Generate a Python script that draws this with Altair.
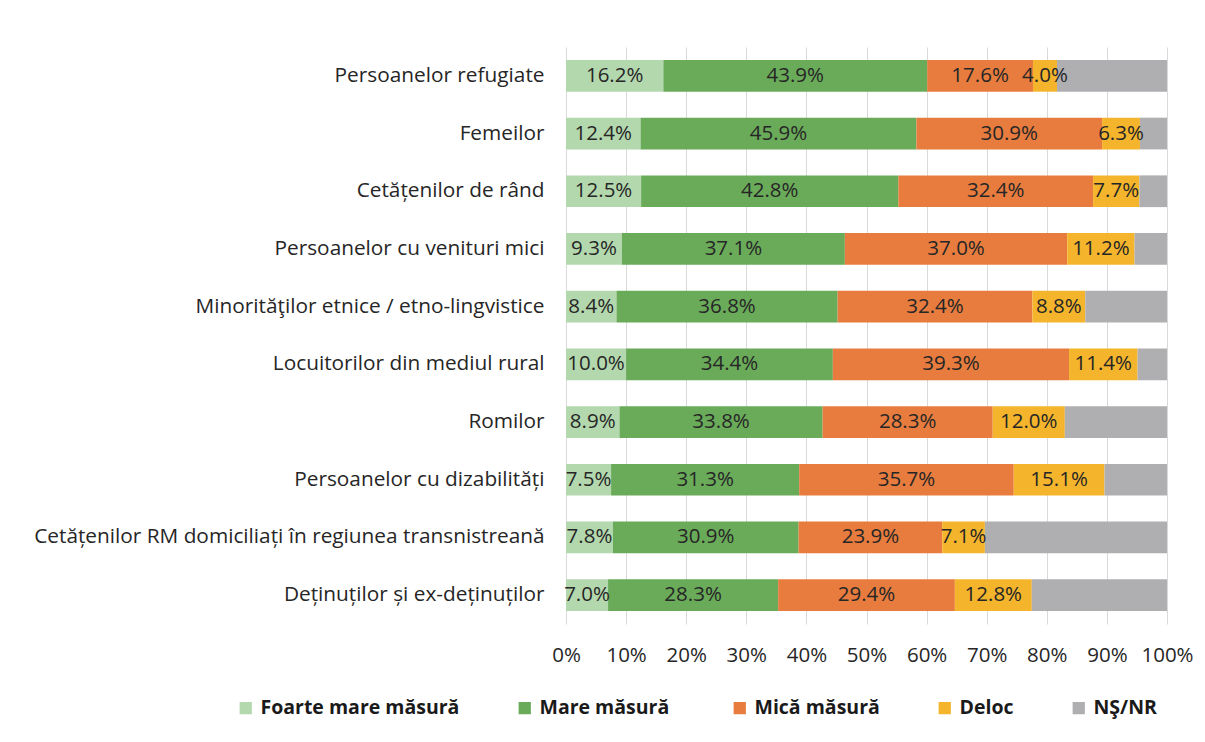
import altair as alt
import pandas as pd

categories = [
    "Persoanelor refugiate",
    "Femeilor",
    "Cetățenilor de rând",
    "Persoanelor cu venituri mici",
    "Minorităţilor etnice / etno-lingvistice",
    "Locuitorilor din mediul rural",
    "Romilor",
    "Persoanelor cu dizabilități",
    "Cetățenilor RM domiciliați în regiunea transnistreană",
    "Deținuților și ex-deținuților",
]
foarte_mare = [16.2, 12.4, 12.5, 9.3, 8.4, 10.0, 8.9, 7.5, 7.8, 7.0]
mare = [43.9, 45.9, 42.8, 37.1, 36.8, 34.4, 33.8, 31.3, 30.9, 28.3]
mica = [17.6, 30.9, 32.4, 37.0, 32.4, 39.3, 28.3, 35.7, 23.9, 29.4]
deloc = [4.0, 6.3, 7.7, 11.2, 8.8, 11.4, 12.0, 15.1, 7.1, 12.8]
ns_nr = [18.3, 4.5, 4.6, 5.4, 13.6, 4.9, 17.0, 10.4, 30.3, 22.5]

series = ["Foarte mare măsură", "Mare  măsură", "Mică măsură", "Deloc", "NŞ/NR"]
colors = ["#b4d8ae", "#6aab5a", "#e77c3e", "#f4b52d", "#afafb2"]
x_ticks = [0, 10, 20, 30, 40, 50, 60, 70, 80, 90, 100]

values_by_series = [foarte_mare, mare, mica, deloc, ns_nr]
rows = []
for si, (s, vals) in enumerate(zip(series, values_by_series)):
    for ci, c in enumerate(categories):
        rows.append({"cat": c, "series": s, "s_order": si, "value": vals[ci]})
df = pd.DataFrame(rows)

FONT = "Open Sans"

base = (
    alt.Chart(df)
    .transform_stack(
        stack="value", as_=["x0", "x1"], groupby=["cat"],
        sort=[alt.SortField("s_order", order="ascending")],
    )
    .transform_calculate(
        mid="(datum.x0 + datum.x1) / 2",
        label="format(datum.value, '.1f') + '%'",
    )
)

y_enc = alt.Y(
    "cat:N", sort=categories, title=None,
    scale=alt.Scale(paddingInner=0.45, paddingOuter=0.225),
    axis=alt.Axis(ticks=False, domain=False, labelPadding=22, labelFontSize=20.8,
                  labelColor="#262626", labelFont=FONT, labelLimit=600),
)

bars = base.mark_bar().encode(
    y=y_enc,
    x=alt.X(
        "x0:Q", title=None,
        scale=alt.Scale(domain=[0, 100], nice=False, zero=True),
        axis=alt.Axis(values=x_ticks, labelExpr="datum.value + '%'", grid=True,
                      gridColor="#d9d9d9", gridWidth=1, domain=False, ticks=False,
                      labelPadding=21, labelFontSize=20.5, labelColor="#262626",
                      labelFont=FONT, labelFlush=False, labelOverlap=False),
    ),
    x2="x1:Q",
    color=alt.Color(
        "series:N",
        scale=alt.Scale(domain=series, range=colors),
        legend=alt.Legend(
            title=None, orient="none", direction="horizontal",
            legendX=-330, legendY=651,
            symbolType="square", symbolSize=150, symbolStrokeWidth=0,
            labelFont=FONT, labelFontSize=19.5, labelFontWeight="bold",
            labelColor="#1a1a1a", columnPadding=55, labelOffset=5,
            labelLimit=400,
        ),
    ),
    order=alt.Order("s_order:Q"),
)

text = (
    base.transform_filter("datum.series != 'NŞ/NR'")
    .mark_text(font=FONT, fontSize=20.5, color="#262626")
    .encode(y=y_enc, x=alt.X("mid:Q"), text="label:N")
)

chart = (
    alt.layer(bars, text)
    .properties(
        width=601, height=577,
        padding={"left": 558, "top": 39, "right": 30, "bottom": 110},
        autosize=alt.AutoSizeParams(type="none"),
    )
    .configure_view(stroke=None)
)

chart.save("out.html", embed_options={"renderer": "svg", "actions": False})
